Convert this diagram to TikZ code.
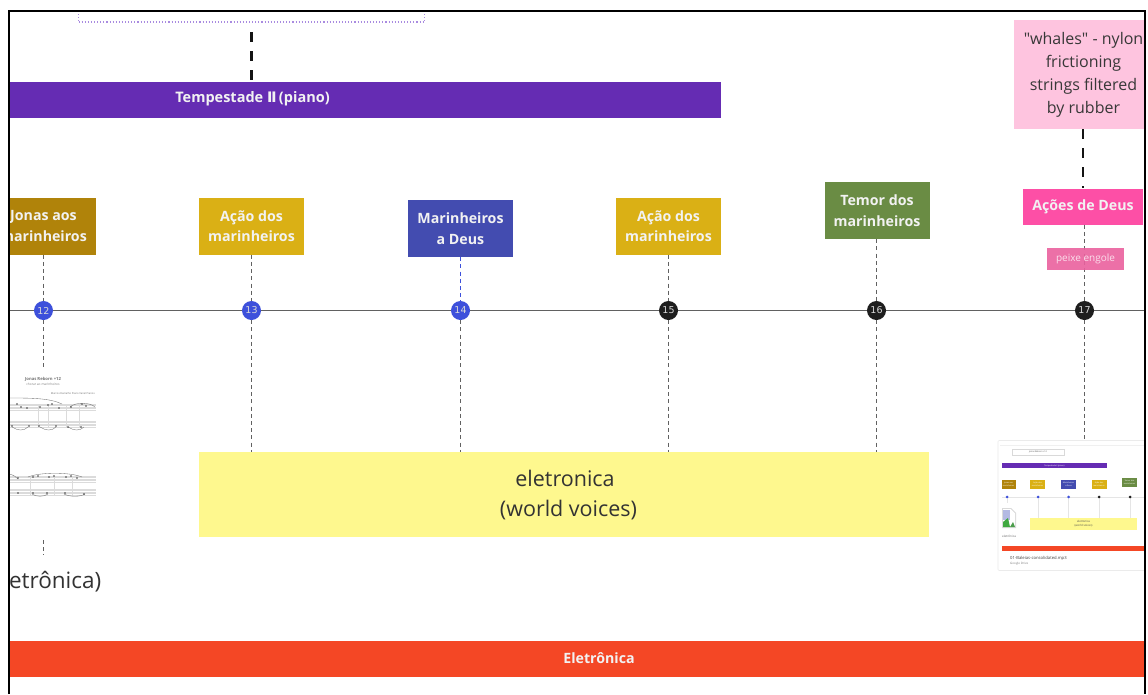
\documentclass[tikz,border=0pt]{standalone}
\usepackage{fontspec}
\setmainfont{Open Sans}
\newfontfamily\plainfont{Open Sans}
\newfontfamily\numfont{DejaVu Sans}
\definecolor{vio}{HTML}{652CB3}
\definecolor{vioL}{HTML}{A98BE0}
\definecolor{brownY}{HTML}{B0830A}
\definecolor{goldY}{HTML}{DAB015}
\definecolor{indi}{HTML}{434CB0}
\definecolor{oliv}{HTML}{6A8C44}
\definecolor{pinkA}{HTML}{FD4FA6}
\definecolor{pinkB}{HTML}{EA619E}
\definecolor{pinkC}{HTML}{FEC4DF}
\definecolor{yel}{HTML}{FEF88E}
\definecolor{redb}{HTML}{F44725}
\definecolor{dotB}{HTML}{3D50DB}
\definecolor{dotK}{HTML}{1E1E1E}
\tikzset{
  x=1pt,y=-1pt,
  card/.style={draw=none,anchor=center,inner sep=0pt,align=center,text=white!95!black,font=\fontsize{14.2}{20.5}\selectfont\bfseries},
  bar/.style={draw=none,fill=#1},
  dot/.style={circle,fill=#1,minimum size=19pt,inner sep=0pt,text=white!85!black,font=\numfont\fontsize{9.5}{10}\selectfont},
  stem/.style={line width=1.3pt,dash pattern=on 4pt off 3.2pt,draw=#1},
  stem/.default=black!62,
  heavy/.style={line width=2.2pt,dash pattern=on 10pt off 9pt,draw=black!92},
  staff/.style={draw=black!14,line width=0.3pt},
  slur/.style={draw=black!55,line width=0.35pt},
  mini/.style={inner sep=0pt,font=\fontsize{2}{2.6}\selectfont,text=white,align=center},
  ministem/.style={draw=black!10,line width=0.8pt},
}
\begin{document}
\begin{tikzpicture}
\useasboundingbox (0,0) rectangle (1148,694);
\fill[white] (0,0) rectangle (1148,694);
\begin{scope}
\clip (9,11) rectangle (1145,694);
% top frame
\node[draw=vioL,dotted,line width=1.1pt,minimum width=346pt,minimum height=30pt,inner sep=0pt] (frameTop) at (251.5,7) {};
% bars
\node[bar=vio,minimum width=730pt,minimum height=36pt,inner sep=0pt] (storm) at (356,100) {};
\node[text=white!95!black,font=\fontsize{14.5}{16}\selectfont\bfseries,inner sep=0pt] (stormT) at (252.5,99) {Tempestade {\numfont Ⅱ}\,(piano)};
\node[bar=redb,minimum width=1150pt,minimum height=36pt,inner sep=0pt] (elec) at (570,659) {};
\node[text=white!95!black,font=\fontsize{14.2}{16}\selectfont\bfseries,inner sep=0pt] (elecT) at (599,658) {Eletrônica};
% timeline
\coordinate (tlL) at (0,310.5);
\coordinate (tlR) at (1148,310.5);
\draw[black!62,line width=1pt] (tlL) -- (tlR);
% cards
\node[card,fill=brownY,minimum width=105pt,minimum height=57pt] (c12) at (43.5,226) {Jonas aos\\marinheiros};
\node[card,fill=goldY,minimum width=105pt,minimum height=57pt] (c13) at (251.5,226) {Ação dos\\marinheiros};
\node[card,fill=indi,minimum width=105pt,minimum height=57pt] (c14) at (460.5,228.5) {Marinheiros\\a Deus};
\node[card,fill=goldY,minimum width=105pt,minimum height=57pt] (c15) at (668.5,226) {Ação dos\\marinheiros};
\node[card,fill=oliv,minimum width=105pt,minimum height=57pt] (c16) at (877,210.5) {Temor dos\\marinheiros};
\node[card,fill=pinkA,minimum width=120pt,minimum height=36pt] (c17) at (1083,206.5) {Ações de Deus};
\node[draw=none,fill=pinkC,minimum width=131pt,minimum height=109pt,inner sep=0pt] (whales) at (1079.5,74.5) {};
\node[inner sep=0pt,align=center,text=black!78,font=\plainfont\fontsize{16}{23}\selectfont] (whalesT) at (1083.5,75) {"whales" - nylon\\frictioning\\strings filtered\\by rubber};
% yellow
\node[draw=none,fill=yel,minimum width=730pt,minimum height=85pt,inner sep=0pt] (yb) at (564,494.5) {};
\node[text=black!80,font=\fontsize{21.5}{24}\selectfont,inner sep=0pt] (y1) at (565,478) {eletronica};
\node[text=black!80,font=\fontsize{21.5}{24}\selectfont,inner sep=0pt] (y2) at (568.5,510) {(world voices)};
% dots
\node[dot=dotB] (n12) at (43.5,310.5) {12};
\node[dot=dotB] (n13) at (251.5,310.5) {13};
\node[dot=dotB] (n14) at (460.5,310.5) {14};
\node[dot=dotK] (n15) at (668.5,310.5) {15};
\node[dot=dotK] (n16) at (876.5,310.5) {16};
\node[dot=dotK] (n17) at (1084.5,310.5) {17};
% connectors up
\draw[stem] (c12.south) -- (n12.north);
\draw[stem] (c13.south) -- (n13.north);
\draw[stem=dotB] (c14.south) -- (n14.north);
\draw[stem] (c15.south -| n15) -- (n15.north);
\draw[stem] (c16.south -| n16) -- (n16.north);
\draw[stem] (c17.south -| n17) -- (n17.north);
% connectors down
\coordinate (s12) at (43.5,370);
\coordinate (s12b) at (43.5,540);
\coordinate (s12c) at (43.5,555);
\draw[stem] (n12.south) -- (s12);
\draw[stem] (s12b) -- (s12c);
\draw[stem] (n13.south) -- (n13 |- yb.north);
\draw[stem] (n14.south) -- (n14 |- yb.north);
\draw[stem] (n15.south) -- (n15 |- yb.north);
\draw[stem] (n16.south) -- (n16 |- yb.north);
\coordinate (thumbTop) at (1084.5,440);
\draw[stem] (n17.south) -- (thumbTop);
% heavy
\coordinate (hTop) at (251.5,32);
\draw[heavy] (hTop) -- (storm.north -| hTop);
\draw[heavy] (whales.south -| c17) -- (c17.north);
% small pink
\node[draw=none,fill=pinkB,fill opacity=0.9,text opacity=1,minimum width=77pt,minimum height=22pt,inner sep=0pt,text=white!80!pinkB,font=\fontsize{10}{11}\selectfont] (peixe) at (1085.5,259) {peixe engole};
% eletronica label
\node[anchor=east,inner sep=0pt,text=black!80,font=\fontsize{22.5}{24}\selectfont] (lab) at (101.5,582) {etrônica)};
% score
\node[font=\bfseries\fontsize{4.2}{4}\selectfont,text=black!55,inner sep=0pt] (st1) at (43,379.5) {Jonas Reborn +12};
\node[font=\fontsize{3.2}{3}\selectfont,text=black!50,inner sep=0pt] (st2) at (43,384.5) {chorar ao marinheiros};
\node[font=\fontsize{2.6}{3}\selectfont,text=black!55,inner sep=0pt,anchor=east] (st3) at (95,394) {Marcos Ramalho Piano Vanel Pianos};
\foreach \y in {404,405.5,407,408.5,410,421,422.5,424,425.5,427,
                476,477.5,479,480.5,482,489,490.5,492,493.5,495}{
  \draw[staff] (9,\y) -- (96,\y);}
\foreach \x in {38,48,66,79}{\draw[staff] (\x,404) -- (\x,427);}
\foreach \x in {30,54,72}{\draw[staff] (\x,476) -- (\x,495);}
\draw[slur] (10,398) .. controls (30,398) and (50,398) .. (62,404);
\draw[slur] (70,407) .. controls (75,402) and (90,402) .. (95,407);
\draw[slur] (12,427) .. controls (18,431) and (24,431) .. (28,427);
\draw[slur] (40,427) .. controls (46,431) and (52,431) .. (56,427);
\draw[slur] (68,427) .. controls (74,431) and (80,431) .. (84,427);
\draw[slur] (28,477) .. controls (40,472) and (70,472) .. (82,477);
\draw[slur] (9,474) .. controls (14,475) and (16,477) .. (18,479);
\draw[slur] (32,494) .. controls (36,497) and (44,497) .. (48,494);
\draw[slur] (64,494) .. controls (70,497) and (80,497) .. (85,494);
\foreach \x/\y in {17/404,21/407,27/408,40/407,48/405,52/404,59/408,71/407,82/404,86/406,
  12/426,29/426,39/426,56/426,68/427,81/427,
  18/478,33/477,38/476,49/477,54/476,66/477,71/476,77/478,
  18/493,33/493,47/493,65/493,84/494}{
  \fill[black!75] (\x,\y) circle (0.8pt);}
% thumbnail
\node[draw=black!8,fill=white,line width=0.6pt,rounded corners=1pt,minimum width=160pt,minimum height=130pt,inner sep=0pt] (thumb) at (1078,505.5) {};
\draw[black!6,line width=0.8pt] (1000,445) -- (1148,445);
\node[draw=black!15,line width=0.4pt,minimum width=52pt,minimum height=6pt,inner sep=0pt,font=\fontsize{2.2}{2}\selectfont,text=black!70] (mT) at (1038,452) {Jonas Reborn +12};
\node[fill=vio,minimum width=105pt,minimum height=5pt,mini] (mP) at (1054.5,465.5) {Tempestade II (piano)};
\node[fill=brownY,minimum width=14pt,minimum height=9pt,mini] (m1) at (1008.5,484.5) {Jonas aos\\marinheiros};
\node[fill=goldY,minimum width=15pt,minimum height=9pt,mini] (m2) at (1037.5,484.5) {Ação dos\\marinheiros};
\node[fill=indi,minimum width=15pt,minimum height=9pt,mini] (m3) at (1068.5,484.5) {Marinheiros\\a Deus};
\node[fill=goldY,minimum width=15pt,minimum height=9pt,mini] (m4) at (1099,484.5) {Ação dos\\marinheiros};
\node[fill=oliv,minimum width=15pt,minimum height=9pt,mini] (m5) at (1129.5,482) {Temor dos\\marinheiros};
\coordinate (mL) at (1002,497);
\coordinate (mR) at (1145,497);
\draw[black!10,line width=0.8pt] (mL) -- (mR);
\node[fill=yel,minimum width=107pt,minimum height=12pt,inner sep=0pt,font=\fontsize{2.8}{4}\selectfont,text=black!70,align=center] (mY) at (1083.5,524) {eletronica\\(world voices)};
\foreach \n/\x/\c in {a/1007/dotB,b/1038/dotB,c/1068.5/dotB,d/1099/dotK,e/1130/dotK}{
  \node[circle,fill=\c,minimum size=3pt,inner sep=0pt] (md\n) at (\x,497) {};}
\draw[ministem] (mdb) -- (mdb |- mY.north);
\draw[ministem] (mdc) -- (mdc |- mY.north);
\draw[ministem] (mdd) -- (mdd |- mY.north);
\draw[ministem] (mde) -- (mde |- mY.north);
\draw[ministem] (mda) -- (1007,503);
% broken image icon
\fill[black!15] (1002,508) -- (1011,508) -- (1016,513) -- (1016,528) -- (1002,528) -- cycle;
\fill[white] (1003,509) -- (1010.5,509) -- (1015,513.5) -- (1015,527) -- (1003,527) -- cycle;
\fill[cyan!30!blue!30] (1003,510) rectangle (1010,520);
\fill[green!55!black!75] (1003,527) -- (1003,522) -- (1008,518) -- (1010,527) -- cycle;
\fill[green!45!black!70] (1010,527) -- (1013,522) -- (1015,527) -- cycle;
\node[font=\fontsize{3}{3}\selectfont,text=black!60,inner sep=0pt] (mE) at (1009,536) {eletrônica};
\node[fill=redb,minimum width=143pt,minimum height=5pt,mini] (mB) at (1073.5,548) {};
\node[anchor=west,font=\fontsize{4.2}{4}\selectfont,text=black!75,inner sep=0pt] (mF) at (1010,558) {01-Baleias-consolidated.mp3};
\node[anchor=west,font=\fontsize{3}{3}\selectfont,text=black!50,inner sep=0pt] (mG) at (1010,563.5) {Google Drive};
\end{scope}
% border
\draw[black,line width=2pt] (9,694) -- (9,11) -- (1145,11) -- (1145,694);
\end{tikzpicture}
\end{document}
